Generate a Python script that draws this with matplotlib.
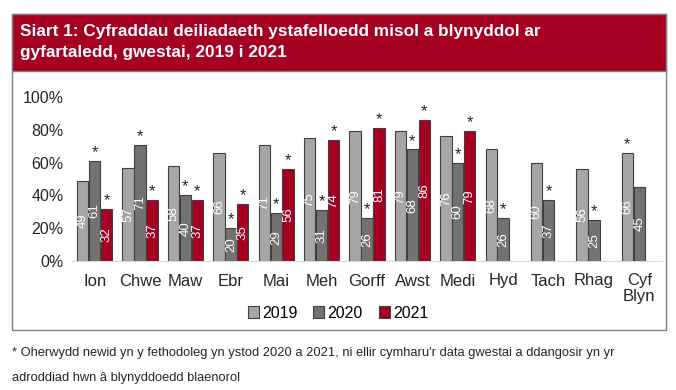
import numpy as np
import matplotlib.pyplot as plt
from matplotlib.patches import Rectangle

# Data
months = ["Ion", "Chwe", "Maw", "Ebr", "Mai", "Meh", "Gorff", "Awst", "Medi",
          "Hyd", "Tach", "Rhag", "Cyf\nBlyn"]
v2019 = [49, 57, 58, 66, 71, 75, 79, 79, 76, 68, 60, 56, 66]
v2020 = [61, 71, 40, 20, 29, 31, 26, 68, 60, 26, 37, 25, 45]
v2021 = [32, 37, 37, 35, 56, 74, 81, 86, 79, None, None, None, None]
star2019 = [False] * 12 + [True]
star2020 = [True] * 12 + [False]
star2021 = [True] * 9 + [False] * 4

red = "#A50021"
colors = ["#A6A6A6", "#767171", red]
years = ["2019", "2020", "2021"]

fig = plt.figure(figsize=(6.76, 3.9), dpi=100)
plt.rcParams['font.family'] = ['Liberation Sans', 'DejaVu Sans']

# outer frame and header
fig.patches.append(Rectangle((12 / 676, 1 - 330 / 390), 654 / 676, 316 / 390,
                             transform=fig.transFigure, fill=False,
                             edgecolor="#7F7F7F", linewidth=1))
fig.patches.append(Rectangle((12 / 676, 1 - 71 / 390), 654 / 676, 57 / 390,
                             transform=fig.transFigure, facecolor=red,
                             edgecolor="#7F7F7F", linewidth=1))
fig.text(20 / 676, 1 - 42 / 390,
         "Siart 1: Cyfraddau deiliadaeth ystafelloedd misol a blynyddol ar\ngyfartaledd, gwestai, 2019 i 2021",
         color="white", fontsize=12.4, fontweight="bold", va="center", ha="left",
         linespacing=1.5)

ax = fig.add_axes([72 / 676, 129 / 390, 590 / 676, 164 / 390])
x = np.arange(len(months))
w = 0.25
series = [v2019, v2020, v2021]
stars = [star2019, star2020, star2021]
for i, (vals, col, yr, st) in enumerate(zip(series, colors, years, stars)):
    pos = x + (i - 1) * w * 1.05
    xs = [p for p, v in zip(pos, vals) if v is not None]
    hs = [v for v in vals if v is not None]
    ax.bar(xs, hs, width=w, color=col, edgecolor="#404040", linewidth=0.8,
           label=yr)
    for p, v, s in zip(pos, vals, st):
        if v is None:
            continue
        ax.text(p, v / 2, str(v), rotation=90, ha="center", va="center",
                color="white", fontsize=9.5)
        if s:
            ax.text(p, v + 0.5, "*", ha="center", va="bottom", fontsize=12,
                    color="#262626")

ax.set_xlim(-0.5, 12.5)
ax.set_ylim(0, 100)
ax.set_yticks(range(0, 101, 20))
ax.set_yticklabels([f"{t}%" for t in range(0, 101, 20)], fontsize=11.5,
                   color="#262626")
ax.set_xticks(x)
ax.set_xticklabels(months, fontsize=12, color="#262626", linespacing=1.0)
ax.tick_params(length=0, pad=6)
ax.tick_params(axis="x", pad=9)
for s in ["top", "right", "left"]:
    ax.spines[s].set_visible(False)
ax.spines["bottom"].set_color("#D9D9D9")
ax.patch.set_alpha(0)

fig.legend(loc="center", bbox_to_anchor=(0.5, 1 - 313 / 390), ncol=3,
           frameon=False, fontsize=11.5, handlelength=0.7, handleheight=0.7,
           handletextpad=0.2, columnspacing=1.0)

fig.text(12 / 676, 1 - 353 / 390,
         "* Oherwydd newid yn y fethodoleg yn ystod 2020 a 2021, ni ellir cymharu'r data gwestai a ddangosir yn yr",
         fontsize=9.3, va="center", ha="left", color="#262626")
fig.text(12 / 676, 1 - 378 / 390, "adroddiad hwn â blynyddoedd blaenorol",
         fontsize=9.3, va="center", ha="left", color="#262626")

fig.savefig("out.png", dpi=100)
